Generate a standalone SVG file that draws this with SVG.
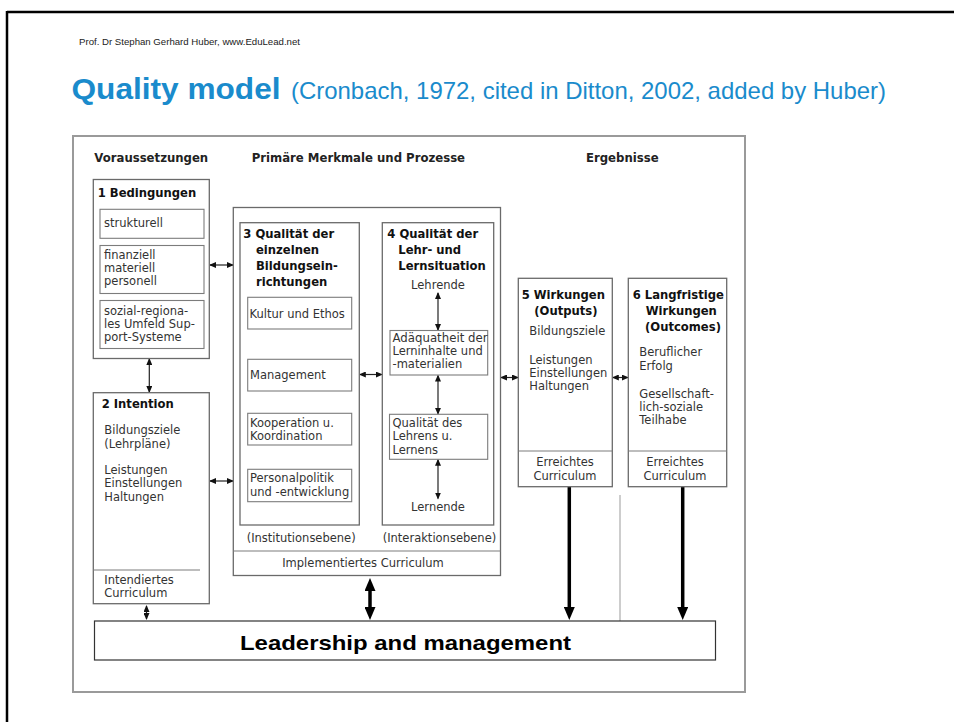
<svg xmlns="http://www.w3.org/2000/svg" width="954" height="722" viewBox="0 0 954 722">
<defs>
<style>
.box{fill:none;stroke:#6a6a6a;stroke-width:1.3}
.sub{fill:none;stroke:#7c7c7c;stroke-width:1.1}
.sep{stroke:#7c7c7c;stroke-width:1.1}
.t{font-family:"DejaVu Sans",sans-serif;font-size:11.5px;fill:#333}
.c{text-anchor:middle}
.b{font-family:"DejaVu Sans",sans-serif;font-weight:bold;font-size:11.6px;fill:#111}
.h{font-family:"DejaVu Sans",sans-serif;font-weight:bold;font-size:11.7px;fill:#222}
.ln{stroke:#222;stroke-width:1.2;fill:none;marker-start:url(#ah);marker-end:url(#ah)}
.thick{stroke:#000;stroke-width:3.5;fill:none;marker-end:url(#th)}
</style>
<marker id="ah" viewBox="0 0 7 6" markerUnits="userSpaceOnUse" markerWidth="7" markerHeight="6" refX="6" refY="3" orient="auto-start-reverse"><path d="M0,0 L7,3 L0,6 z" fill="#111"/></marker>
<marker id="th" viewBox="0 0 13 11" markerUnits="userSpaceOnUse" markerWidth="13" markerHeight="11" refX="7" refY="5.5" orient="auto-start-reverse"><path d="M0,0 L13,5.5 L0,11 z" fill="#000"/></marker>
</defs>
<rect width="954" height="722" fill="#fff"/>
<g id="frame">
<line x1="7" y1="12" x2="954" y2="12" stroke="#000" stroke-width="2.5"/>
<line x1="7" y1="11" x2="7" y2="722" stroke="#000" stroke-width="2.5"/>
</g>
<g id="header">
<text x="79" y="44.5" font-family="Liberation Sans, sans-serif" font-size="9.5" fill="#222" textLength="221" lengthAdjust="spacingAndGlyphs">Prof. Dr Stephan Gerhard Huber, www.EduLead.net</text>
<text x="71.5" y="99" font-family="Liberation Sans, sans-serif" font-size="30" font-weight="bold" fill="#1a8bcc" textLength="209" lengthAdjust="spacingAndGlyphs">Quality model</text>
<text x="291" y="99" font-family="Liberation Sans, sans-serif" font-size="24" fill="#1a8bcc" textLength="595" lengthAdjust="spacingAndGlyphs">(Cronbach, 1972, cited in Ditton, 2002, added by Huber)</text>
</g>
<g id="outer">
<rect x="73" y="136" width="672" height="556" fill="none" stroke="#9a9a9a" stroke-width="2"/>
<text class="h" x="94.3" y="162">Voraussetzungen</text>
<text class="h" x="251.7" y="162">Primäre Merkmale und Prozesse</text>
<text class="h" x="586" y="162">Ergebnisse</text>
</g>
<g id="connectors">
<line class="ln" x1="149.3" y1="359" x2="149.3" y2="392"/>
<line class="ln" x1="210" y1="265" x2="233" y2="265"/>
<line class="ln" x1="210" y1="481" x2="233" y2="481"/>
<line class="ln" x1="359.8" y1="374.5" x2="381.8" y2="374.5"/>
<line class="ln" x1="501" y1="377.5" x2="518" y2="377.5"/>
<line class="ln" x1="612.8" y1="377.5" x2="627.8" y2="377.5"/>
<line class="ln" x1="438" y1="293" x2="438" y2="330"/>
<line class="ln" x1="438" y1="375.5" x2="438" y2="413.8"/>
<line class="ln" x1="438" y1="459.8" x2="438" y2="498.5"/>
<line class="ln" x1="146.5" y1="606" x2="146.5" y2="619"/>
<line x1="620" y1="495" x2="620" y2="621" stroke="#bdbdbd" stroke-width="1.5"/>
<line class="thick" x1="370" y1="584" x2="370" y2="614" style="marker-start:url(#th)"/>
<line class="thick" x1="569.3" y1="487" x2="569.3" y2="614"/>
<line class="thick" x1="682.7" y1="487" x2="682.7" y2="614"/>
</g>
<g id="n1">
<rect class="box" x="93.3" y="179.5" width="116" height="179"/>
<text class="b" x="97.7" y="197">1 Bedingungen</text>
<rect class="sub" x="100" y="209.3" width="104" height="29"/>
<text class="t" x="104" y="226.5">strukturell</text>
<rect class="sub" x="100" y="245.5" width="104" height="48"/>
<text class="t" x="104" y="258.5">finanziell</text>
<text class="t" x="104" y="271.5">materiell</text>
<text class="t" x="104" y="284.5">personell</text>
<rect class="sub" x="100" y="300.5" width="104" height="48"/>
<text class="t" x="104" y="314.5">sozial-regiona-</text>
<text class="t" x="104" y="327.5">les Umfeld Sup-</text>
<text class="t" x="104" y="340.5">port-Systeme</text>
</g>
<g id="n2">
<rect class="box" x="93.3" y="392.7" width="116" height="211"/>
<text class="b" x="101.7" y="407.5">2 Intention</text>
<text class="t" x="104.3" y="434.3">Bildungsziele</text>
<text class="t" x="104.3" y="447.5">(Lehrpläne)</text>
<text class="t" x="104.3" y="474">Leistungen</text>
<text class="t" x="104.3" y="487.3">Einstellungen</text>
<text class="t" x="104.3" y="500.5">Haltungen</text>
<line class="sep" x1="93.3" y1="570" x2="200" y2="570"/>
<text class="t" x="104.3" y="584.3">Intendiertes</text>
<text class="t" x="104.3" y="597">Curriculum</text>
</g>
<g id="nbig">
<rect class="box" x="233.3" y="207.5" width="267.2" height="368"/>
<line class="sep" x1="233.3" y1="551" x2="500.5" y2="551"/>
<text class="t c" x="363" y="566.5">Implementiertes Curriculum</text>
<text class="t" x="246.7" y="541.5" font-size="11.2">(Institutionsebene)</text>
<text class="t" x="382.7" y="541.5" font-size="11.2">(Interaktionsebene)</text>
</g>
<g id="n3">
<rect class="box" x="240" y="222.7" width="119.3" height="302.3"/>
<text class="b" x="243.3" y="238">3 Qualität der</text>
<text class="b" x="256" y="254">einzelnen</text>
<text class="b" x="256" y="270">Bildungsein-</text>
<text class="b" x="256" y="286">richtungen</text>
<rect class="sub" x="247.7" y="297.3" width="104" height="31.7"/>
<text class="t" x="249.5" y="317.5">Kultur und Ethos</text>
<rect class="sub" x="247.7" y="359.3" width="104" height="31.7"/>
<text class="t" x="250" y="379">Management</text>
<rect class="sub" x="247.7" y="413.3" width="104" height="31.7"/>
<text class="t" x="250" y="427">Kooperation u.</text>
<text class="t" x="250" y="440">Koordination</text>
<rect class="sub" x="247.7" y="469.3" width="104" height="32.4"/>
<text class="t" x="250" y="482">Personalpolitik</text>
<text class="t" x="250" y="495.5">und -entwicklung</text>
</g>
<g id="n4">
<rect class="box" x="382.3" y="222.7" width="111.4" height="302.3"/>
<text class="b" x="387.3" y="238">4 Qualität der</text>
<text class="b" x="398.3" y="254">Lehr- und</text>
<text class="b" x="398.3" y="270">Lernsituation</text>
<text class="t c" x="438" y="288.5">Lehrende</text>
<rect class="sub" x="390" y="330.5" width="97.7" height="44.5"/>
<text class="t" x="392.5" y="342" textLength="95" lengthAdjust="spacingAndGlyphs">Adäquatheit der</text>
<text class="t" x="392.5" y="355">Lerninhalte und</text>
<text class="t" x="392.5" y="367.5">-materialien</text>
<rect class="sub" x="389.5" y="414.3" width="98.2" height="45"/>
<text class="t" x="392.5" y="427">Qualität des</text>
<text class="t" x="392.5" y="440">Lehrens u.</text>
<text class="t" x="392.5" y="453.5">Lernens</text>
<text class="t c" x="438" y="511">Lernende</text>
</g>
<g id="n5">
<rect class="box" x="518.3" y="278.3" width="94" height="208.4"/>
<text class="b" x="521.7" y="298.5">5 Wirkungen</text>
<text class="b" x="534.3" y="314.5">(Outputs)</text>
<text class="t" x="529.3" y="335">Bildungsziele</text>
<text class="t" x="529.3" y="363.5">Leistungen</text>
<text class="t" x="529.3" y="376.7">Einstellungen</text>
<text class="t" x="529.3" y="389.5">Haltungen</text>
<line class="sep" x1="518.3" y1="451" x2="612.3" y2="451"/>
<text class="t c" x="565" y="466">Erreichtes</text>
<text class="t c" x="565" y="479.5">Curriculum</text>
</g>
<g id="n6">
<rect class="box" x="628.3" y="278.3" width="98.4" height="208.4"/>
<text class="b" x="632.7" y="298.5">6 Langfristige</text>
<text class="b" x="645.7" y="314.5">Wirkungen</text>
<text class="b" x="645" y="330.5">(Outcomes)</text>
<text class="t" x="639.3" y="355.5">Beruflicher</text>
<text class="t" x="639.3" y="369.5">Erfolg</text>
<text class="t" x="639.3" y="397.5">Gesellschaft-</text>
<text class="t" x="639.3" y="410.5">lich-soziale</text>
<text class="t" x="639.3" y="424">Teilhabe</text>
<line class="sep" x1="628.3" y1="451" x2="726.7" y2="451"/>
<text class="t c" x="675" y="466">Erreichtes</text>
<text class="t c" x="675" y="479.5">Curriculum</text>
</g>
<g id="n7">
<rect x="94.5" y="621" width="621" height="39" fill="#fff" stroke="#333" stroke-width="1.2"/>
<text x="240" y="649.5" font-family="Liberation Sans, sans-serif" font-weight="bold" font-size="20.5" fill="#000" textLength="331" lengthAdjust="spacingAndGlyphs">Leadership and management</text>
</g>
</svg>
